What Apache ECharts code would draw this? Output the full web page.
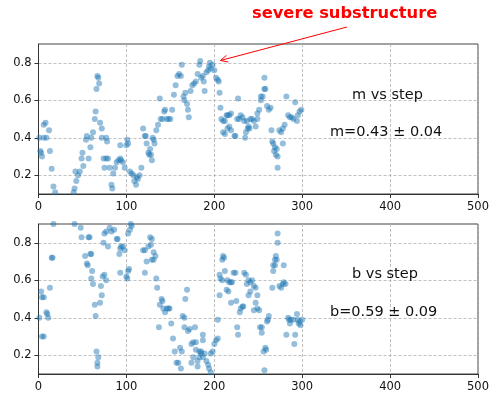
<!DOCTYPE html>
<html>
<head>
<meta charset="utf-8">
<script src="https://cdn.jsdelivr.net/npm/echarts@6/dist/echarts.min.js"></script>
<style>
html,body{margin:0;padding:0;background:#fff;}
#chart{width:492px;height:393px;}
</style>
</head>
<body>
<div id="chart"></div>
<script>
// ---- data ----
var xTicks = [0, 100, 200, 300, 400, 500];
var yTicks = [0.2, 0.4, 0.6, 0.8];

var mSteps = [1,2,3,4,6,8,6,9,12,13,15,17,19,
  40,41,42,43,45,47,49,50,51,54,55,57,59,60,62,64,65,66,67,68,69,70,72,72,74,75,77,79,77,78,83,84,85,81,87,89,91,93,94,96,93,98,100,102,101,104,106,108,109,111,112,113,115,117,119,121,122,123,125,126,
  127,128,129,130,131,132,134,136,138,139,141,143,144,146,148,150,152,154,156,158,160,162,163,165,166,167,169,170,171,173,175,177,179,181,183,184,185,187,188,189,191,193,194,195,196,198,200,202,204,205,206,207,208,210,212,210,212,214,215,217,219,217,215,219,223,224,226,227,228,230,232,234,235,237,239,240,241,243,245,247,249,249,236,238,251,253,253,255,257,258,257,260,262,264,265,266,267,268,269,270,271,272,272,274,276,278,280,278,282,284,286,288,290,292,294,295,297,299];
var mValues = [0.40,0.33,0.32,0.30,0.47,0.48,0.40,0.40,0.44,0.33,0.235,0.14,0.11,
  0.11,0.13,0.22,0.17,0.20,0.22,0.29,0.32,0.25,0.39,0.41,0.29,0.35,0.40,0.43,0.50,0.54,0.66,0.73,0.72,0.69,0.48,0.45,0.40,0.29,0.24,0.29,0.29,0.40,0.38,0.15,0.13,0.21,0.24,0.24,0.27,0.28,0.29,0.28,0.27,0.36,0.24,0.36,0.37,0.39,0.22,0.21,0.20,0.17,0.15,0.19,0.18,0.20,0.24,0.45,0.41,0.41,0.37,0.32,0.31,
  0.34,0.31,0.28,0.40,0.39,0.37,0.44,0.47,0.61,0.50,0.50,0.54,0.55,0.50,0.50,0.50,0.55,0.63,0.68,0.73,0.74,0.73,0.79,0.62,0.60,0.64,0.58,0.55,0.51,0.65,0.68,0.69,0.70,0.74,0.79,0.81,0.72,0.73,0.70,0.65,0.75,0.76,0.78,0.80,0.77,0.79,0.76,0.72,0.71,0.70,0.64,0.56,0.50,0.49,0.49,0.43,0.42,0.52,0.52,0.52,0.53,0.46,0.45,0.44,0.41,0.41,0.50,0.61,0.50,0.52,0.51,0.49,0.40,0.49,0.46,0.45,0.50,0.50,0.49,0.46,0.50,0.53,0.43,0.45,0.55,0.60,0.62,0.62,0.66,0.66,0.72,0.57,0.55,0.56,0.44,0.38,0.37,0.33,0.35,0.31,0.34,0.24,0.30,0.44,0.43,0.45,0.47,0.37,0.62,0.52,0.51,0.51,0.50,0.59,0.49,0.52,0.54,0.55];

var bSteps = [1,3,4,6,4,6,9,10,11,13,15,16,17,41,48,49,53,55,56,57,58,59,60,61,60,62,64,65,66,68,67,67,70,71,72,73,75,77,74,75,77,81,83,86,79,89,90,92,93,94,96,98,93,100,101,102,103,102,104,105,106,119,121,123,125,121,
  127,129,128,131,129,131,133,134,135,138,140,141,142,144,146,148,149,137,151,153,155,157,159,161,163,162,164,166,166,167,169,170,172,174,176,178,179,179,183,185,183,185,187,187,187,174,176,181,181,189,191,193,194,196,196,198,200,202,204,204,206,206,209,210,211,207,209,212,215,217,219,220,214,216,219,222,224,225,226,227,229,230,232,233,234,236,237,239,241,243,245,239,241,247,249,245,247,249,251,252,254,254,256,258,259,257,260,262,261,266,267,267,269,269,270,271,272,272,274,276,278,279,281,279,282,284,285,287,290,286,292,291,294,295,296,297,298,300];
var bValues = [0.40,0.54,0.51,0.51,0.30,0.30,0.43,0.42,0.40,0.56,0.72,0.72,0.90,0.90,0.88,0.83,0.73,0.69,0.68,0.83,0.83,0.74,0.74,0.65,0.61,0.58,0.47,0.41,0.22,0.19,0.16,0.14,0.48,0.57,0.52,0.62,0.63,0.60,0.80,0.85,0.86,0.88,0.86,0.87,0.78,0.82,0.82,0.74,0.77,0.78,0.78,0.76,0.64,0.62,0.61,0.65,0.66,0.85,0.87,0.90,0.89,0.76,0.76,0.70,0.78,0.64,
  0.83,0.82,0.79,0.75,0.71,0.71,0.73,0.61,0.56,0.47,0.50,0.49,0.45,0.43,0.45,0.45,0.45,0.35,0.37,0.29,0.22,0.16,0.16,0.24,0.22,0.13,0.41,0.40,0.35,0.50,0.55,0.33,0.34,0.26,0.27,0.35,0.27,0.23,0.22,0.22,0.19,0.21,0.19,0.28,0.31,0.16,0.19,0.17,0.14,0.21,0.17,0.15,0.13,0.11,0.21,0.22,0.26,0.28,0.29,0.39,0.52,0.63,0.71,0.73,0.72,0.61,0.60,0.65,0.60,0.59,0.59,0.59,0.55,0.54,0.48,0.64,0.64,0.49,0.35,0.31,0.43,0.45,0.46,0.46,0.64,0.63,0.58,0.60,0.59,0.60,0.57,0.52,0.54,0.56,0.52,0.44,0.48,0.45,0.44,0.35,0.32,0.35,0.22,0.24,0.23,0.12,0.38,0.41,0.39,0.56,0.65,0.68,0.71,0.68,0.73,0.71,0.80,0.85,0.57,0.56,0.58,0.59,0.58,0.68,0.31,0.40,0.39,0.39,0.39,0.37,0.31,0.26,0.42,0.39,0.37,0.38,0.36,0.39];

var mTitle = 'm vs step', mResult = 'm=0.43 ± 0.04';
var bTitle = 'b vs step', bResult = 'b=0.59 ± 0.09';
var noteText = 'severe substructure';
var notePoint = [207, 0.812];

function pairs(xs, ys){ return xs.map(function(x,i){ return [x, ys[i]]; }); }

var FONT = 'DejaVu Sans';
var dotColor = 'rgba(31,119,180,0.6)';

function xAxisCfg(gi){
  return {
    gridIndex: gi, type: 'value', min: 0, max: 500, interval: 100,
    axisLine: {show: true, onZero: false, lineStyle: {color: '#333', width: 1}},
    axisTick: {show: true, inside: false, length: 4, lineStyle: {color: '#333'}},
    axisLabel: {show: true, margin: 7, color: '#111', fontFamily: FONT, fontSize: 11.5},
    splitLine: {show: true, lineStyle: {color: '#b0b0b0', type: [3, 2], width: 0.8}}
  };
}
function yAxisCfg(gi){
  return {
    gridIndex: gi, type: 'value', min: 0.1, max: 0.9,
    axisLine: {show: true, onZero: false, lineStyle: {color: '#333', width: 1}},
    axisTick: {show: true, inside: false, length: 4, customValues: yTicks, lineStyle: {color: '#333'}},
    axisLabel: {show: true, margin: 7, customValues: yTicks, color: '#111', fontFamily: FONT, fontSize: 11.5,
      formatter: function(v){ return v.toFixed(1); }},
    splitLine: {show: true, lineStyle: {color: '#b0b0b0', type: [3, 2], width: 0.8}}
  };
}

var chart = echarts.init(document.getElementById('chart'), null, {renderer: 'canvas'});
chart.setOption({
  animation: false,
  backgroundColor: '#fff',
  grid: [
    {left: 38.5, right: 12.5, top: 44, height: 150, show: true, borderColor: '#444', borderWidth: 1},
    {left: 38.5, right: 12.5, top: 224, height: 150, show: true, borderColor: '#444', borderWidth: 1}
  ],
  xAxis: [xAxisCfg(0), xAxisCfg(1)],
  yAxis: [yAxisCfg(0), yAxisCfg(1)],
  series: [
    {type: 'scatter', xAxisIndex: 0, yAxisIndex: 0, data: pairs(mSteps, mValues), symbolSize: 6,
      itemStyle: {color: dotColor}, clip: true},
    {type: 'scatter', xAxisIndex: 1, yAxisIndex: 1, data: pairs(bSteps, bValues), symbolSize: 6,
      itemStyle: {color: dotColor}, clip: true}
  ]
});

// annotations
var tip = chart.convertToPixel({gridIndex: 0}, notePoint);
var start = [347, 27];
var ang = Math.atan2(start[1] - tip[1], start[0] - tip[0]);
var hl = 8, ha = 0.45;
var h1 = [tip[0] + hl*Math.cos(ang + ha), tip[1] + hl*Math.sin(ang + ha)];
var h2 = [tip[0] + hl*Math.cos(ang - ha), tip[1] + hl*Math.sin(ang - ha)];
var txtStyle = {fontFamily: FONT, fontSize: 14.5, fill: '#111'};
chart.setOption({
  graphic: [
    {type: 'text', left: 252, top: 6, style: {text: noteText, fontFamily: FONT, fontWeight: 'bold', fontSize: 16.3, fill: '#ff0000'}},
    {type: 'line', shape: {x1: start[0], y1: start[1], x2: tip[0], y2: tip[1]}, style: {stroke: '#ff0000', lineWidth: 1}},
    {type: 'polyline', shape: {points: [h1, tip, h2]}, style: {stroke: '#ff0000', lineWidth: 1, fill: null}},
    {type: 'text', x: 352, y: 95, style: Object.assign({text: mTitle, textVerticalAlign: 'middle'}, txtStyle)},
    {type: 'text', x: 330, y: 132, style: Object.assign({text: mResult, textVerticalAlign: 'middle'}, txtStyle)},
    {type: 'text', x: 352, y: 274, style: Object.assign({text: bTitle, textVerticalAlign: 'middle'}, txtStyle)},
    {type: 'text', x: 330, y: 312, style: Object.assign({text: bResult, textVerticalAlign: 'middle'}, txtStyle)}
  ]
});
</script>
</body>
</html>
